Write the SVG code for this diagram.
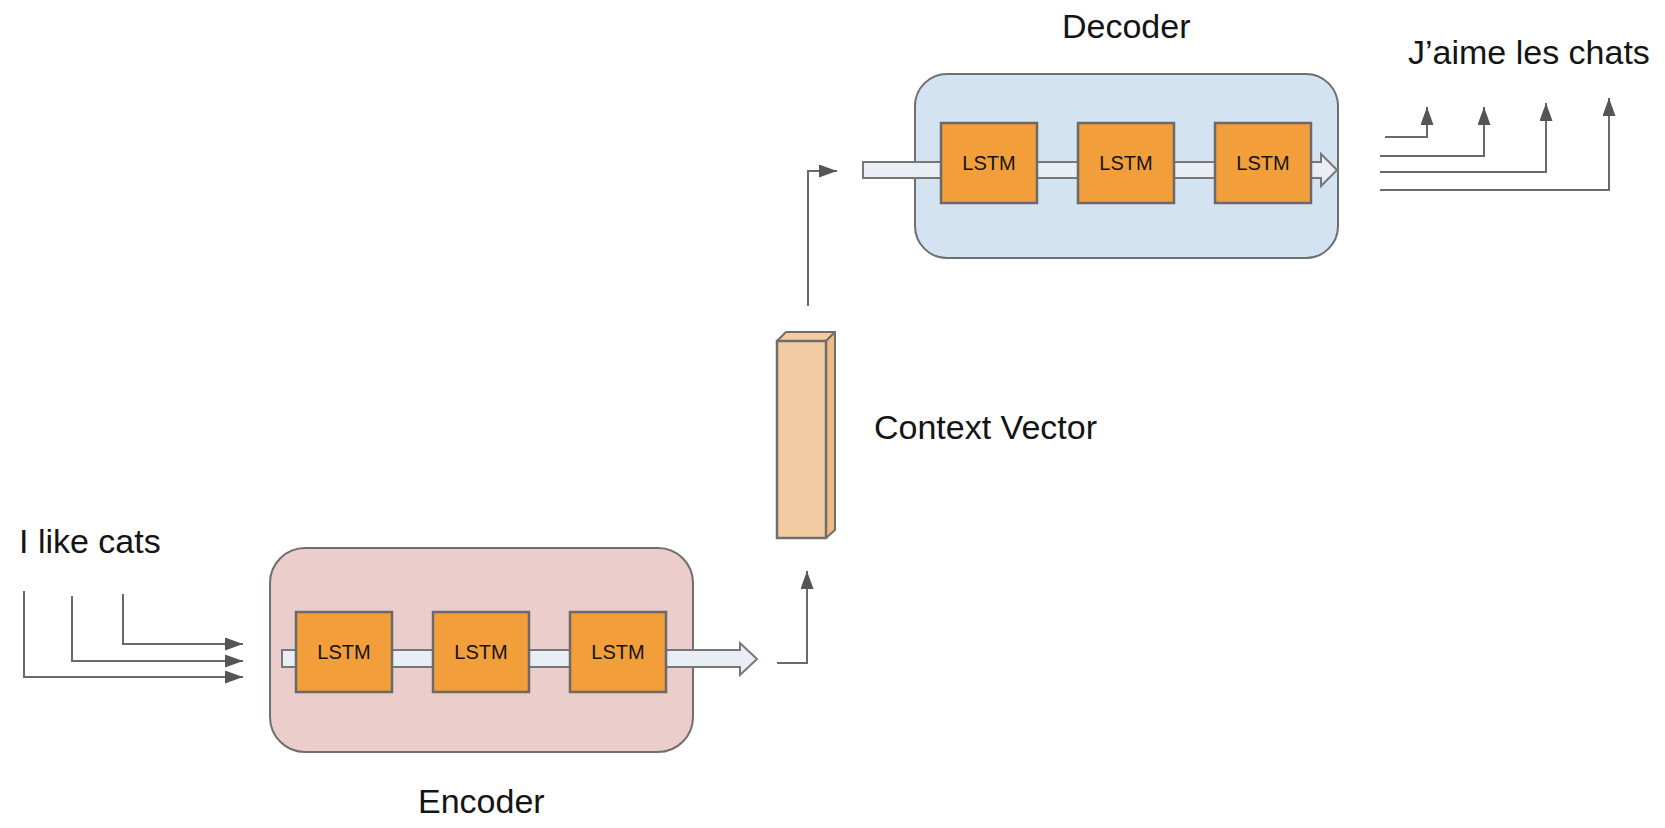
<svg xmlns="http://www.w3.org/2000/svg" width="1665" height="828" viewBox="0 0 1665 828">
<defs>
<marker id="ah" markerUnits="userSpaceOnUse" markerWidth="19" markerHeight="14" refX="18" refY="6.5" orient="auto">
<path d="M0,0 L18,6.5 L0,13 z" fill="#555"/>
</marker>
<style>
.lbl{font-family:"Liberation Sans",Arial,sans-serif;font-size:34px;fill:#141414}
.lt{font-family:"Liberation Sans",Arial,sans-serif;font-size:20px;fill:#141414;text-anchor:middle}
.lstm{fill:#f29e3a;stroke:#6a6a6a;stroke-width:2.5}
.band{fill:#e9eef5;stroke:#777;stroke-width:2}
.con{fill:none;stroke:#6a6a6a;stroke-width:2;marker-end:url(#ah)}
</style>
</defs>
<rect width="1665" height="828" fill="#fff"/>

<g id="encoder">
<rect x="270" y="548" width="423" height="204" rx="35" fill="#ebcdcb" stroke="#6e6e6e" stroke-width="2"/>
<path class="band" d="M282,650 H740 V643 L757,659 L740,675 V667 H282 Z"/>
<g id="enc-lstm1"><rect class="lstm" x="296" y="612" width="96" height="80"/><text class="lt" x="344" y="659">LSTM</text></g>
<g id="enc-lstm2"><rect class="lstm" x="433" y="612" width="96" height="80"/><text class="lt" x="481" y="659">LSTM</text></g>
<g id="enc-lstm3"><rect class="lstm" x="570" y="612" width="96" height="80"/><text class="lt" x="618" y="659">LSTM</text></g>
</g>
<text id="encoder-label" class="lbl" x="418" y="813">Encoder</text>

<g id="decoder">
<rect x="915" y="74" width="423" height="184" rx="32" fill="#d3e3f1" stroke="#6e6e6e" stroke-width="2"/>
<path class="band" d="M863,162 H1321 V154 L1337,170 L1321,186 V178 H863 Z"/>
<g id="dec-lstm1"><rect class="lstm" x="941" y="123" width="96" height="80"/><text class="lt" x="989" y="170">LSTM</text></g>
<g id="dec-lstm2"><rect class="lstm" x="1078" y="123" width="96" height="80"/><text class="lt" x="1126" y="170">LSTM</text></g>
<g id="dec-lstm3"><rect class="lstm" x="1215" y="123" width="96" height="80"/><text class="lt" x="1263" y="170">LSTM</text></g>
</g>
<text id="decoder-label" class="lbl" x="1062" y="38">Decoder</text>

<g id="context-vector">
<polygon points="777,341 786,332 835,332 826,341" fill="#f3cca3" stroke="#6e6e6e" stroke-width="2" stroke-linejoin="round"/>
<polygon points="826,341 835,332 835,530 826,538" fill="#eebb85" stroke="#6e6e6e" stroke-width="2" stroke-linejoin="round"/>
<rect x="777" y="341" width="49" height="197" fill="#f3cca3" stroke="#6e6e6e" stroke-width="2.5"/>
</g>
<text id="context-label" class="lbl" x="874" y="439">Context Vector</text>

<text id="input-label" class="lbl" x="19" y="553">I like cats</text>
<text id="output-label" class="lbl" x="1408" y="64">J’aime les chats</text>

<g id="connectors">
<path class="con" d="M24,591 V677 H243"/>
<path class="con" d="M72,596 V661 H243"/>
<path class="con" d="M123,594 V644 H243"/>
<path class="con" d="M777,663 H807 V571"/>
<path class="con" d="M808,306 V171 H837"/>
<path class="con" d="M1385,137 H1427 V107"/>
<path class="con" d="M1380,156 H1484 V107"/>
<path class="con" d="M1380,172 H1546 V103"/>
<path class="con" d="M1380,190 H1609 V98"/>
</g>
</svg>
